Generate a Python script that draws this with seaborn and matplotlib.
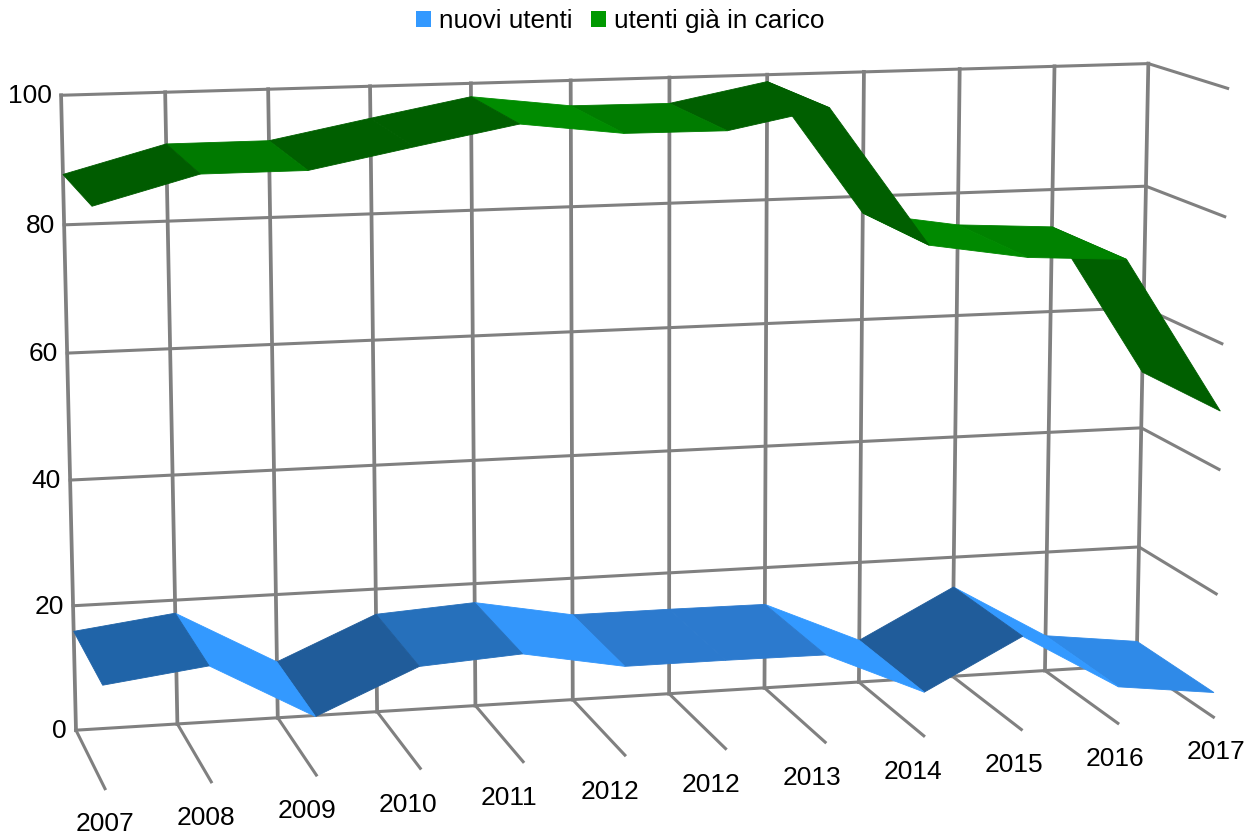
import numpy as np
import matplotlib
matplotlib.use("Agg")
import matplotlib.pyplot as plt
from matplotlib.patches import Patch
import seaborn as sns

# Chart data
years = ["2007", "2008", "2009", "2010", "2011", "2012",
         "2012", "2013", "2014", "2015", "2016", "2017"]
nuovi_utenti = [15.9, 17.9, 9.1, 15.9, 16.9, 14.0, 14.0, 13.9, 7.0, 15.0, 5.9, 4.0]
utenti_in_carico = [87.8, 92.0, 92.0, 95.0, 97.9, 96.0, 95.9, 98.9, 77.3, 74.8, 73.9, 49.3]
value_ticks = [0, 20, 40, 60, 80, 100]

# Ribbon face shades, one per segment between consecutive years
blue_shades = ["#2064a8", "#3399ff", "#205c9a", "#2670bb", "#3396fb", "#2c7ace",
               "#2c7ace", "#3399ff", "#205c9a", "#3399ff", "#2f8ae8"]
green_shades = ["#005c00", "#007a00", "#005f00", "#005f00", "#008c00", "#007c00",
                "#005f00", "#005f00", "#008a00", "#008200", "#005f00"]

GRID = "#808080"
TEXT = "#000000"

sns.set_theme(style="white")
plt.rcParams["font.family"] = ["Liberation Sans", "DejaVu Sans"]

# Perspective camera for the box (category index, value, depth 0..1) -> canvas pixels,
# solved from where the box corners fall on the canvas.
box_corners = np.array([[0, 0, 0], [0, 100, 0], [11, 100, 0], [11, 0, 0],
                        [0, 0, 1], [11, 0, 1], [11, 100, 1], [0, 88, 1]], float)
canvas_corners = np.array([[76, 730], [61, 96], [1148, 63], [1137, 665],
                           [105, 789], [1213, 717], [1228, 89], [92, 204]], float)


def solve_camera(world, image):
    rows, rhs = [], []
    for (x, y, z), (u, v) in zip(world, image):
        rows.append([x, y, z, 1, 0, 0, 0, 0, -u * x, -u * y, -u * z])
        rows.append([0, 0, 0, 0, x, y, z, 1, -v * x, -v * y, -v * z])
        rhs += [u, v]
    p = np.linalg.lstsq(np.array(rows), np.array(rhs), rcond=None)[0]
    return np.append(p, 1).reshape(3, 4)


camera = solve_camera(box_corners, canvas_corners)


def project(x, y, z):
    x, y, z = np.broadcast_arrays(np.asarray(x, float), np.asarray(y, float), np.asarray(z, float))
    h = camera @ np.vstack([x.ravel(), y.ravel(), z.ravel(), np.ones(x.size)])
    return h[0] / h[2], h[1] / h[2]


fig = plt.figure(figsize=(12.45, 8.34), dpi=100)
ax = fig.add_axes([0, 0, 1, 1])


def grid_line(x, y, z, lw):
    px, py = project(x, y, z)
    sns.lineplot(x=px, y=py, sort=False, estimator=None, color=GRID, linewidth=lw,
                 solid_capstyle="projecting", ax=ax, legend=False)


n = len(years)

# Wall gridlines, with the depth ticks running out of the box
for v in value_ticks:
    grid_line([0, n - 1], [v, v], [0, 0], 2.2)
    if v > 0:
        grid_line([n - 1, n - 1], [v, v], [0, 1], 2.2)
for i in range(n):
    grid_line([i, i], [0, 100], [0, 0], 2.7)
    grid_line([i, i], [0, 0], [0, 1], 2.2)


def draw_ribbon(values, shades):
    # Right-to-left so that a fold nearer the left overlaps the next face
    for i in range(n - 2, -1, -1):
        px, py = project([i, i + 1, i + 1, i],
                         [values[i], values[i + 1], values[i + 1], values[i]],
                         [0, 0, 1, 1])
        ax.fill(px, py, facecolor=shades[i], edgecolor=shades[i], linewidth=0.6, zorder=3)


draw_ribbon(nuovi_utenti, blue_shades)
draw_ribbon(utenti_in_carico, green_shades)

# Value labels sit just left of the wall
for v in value_ticks:
    px, py = project(0, v, 0)
    ax.text(px[0] - 9, py[0] + 1, str(v), ha="right", va="center",
            fontsize=19, color=TEXT, zorder=5)

# Year labels step evenly across the bottom of the chart
label_x = np.linspace(105, 1216, n)
label_y = np.linspace(824.3, 752.3, n)
for lx, ly, year in zip(label_x, label_y, years):
    ax.text(lx, ly, year, ha="center", va="center", fontsize=19, color=TEXT, zorder=5)

ax.set_xlim(0, 1245)
ax.set_ylim(834, 0)
ax.set_xlabel("")
ax.set_ylabel("")
ax.axis("off")

handles = [Patch(facecolor="#3399ff", edgecolor="none", label="nuovi utenti"),
           Patch(facecolor="#009900", edgecolor="none", label="utenti già in carico")]
fig.legend(handles=handles, ncol=2, loc="upper center", bbox_to_anchor=(0.4979, 1.0107),
           frameon=False, fontsize=18.8, handlelength=0.58, handleheight=0.58,
           handletextpad=0.30, columnspacing=0.70, labelcolor=TEXT, borderaxespad=0.3)

fig.savefig("out.png", dpi=100)
